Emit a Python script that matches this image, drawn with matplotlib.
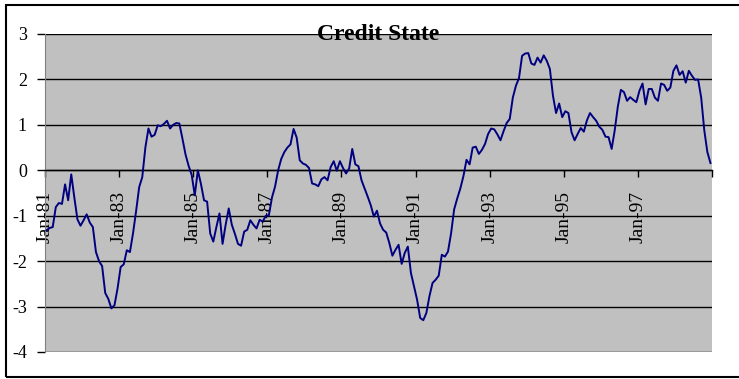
import numpy as np
import matplotlib
matplotlib.use("Agg")
from matplotlib import pyplot as plt
from matplotlib.patches import Rectangle

# monthly credit state, Jan-81 .. Dec-98 (one row per year)
credit_state = [
    -1.32, -1.27, -1.25, -0.81, -0.72, -0.74, -0.31, -0.66, -0.09, -0.60, -1.08, -1.22,  # 81
    -1.10, -0.97, -1.15, -1.25, -1.80, -2.00, -2.11, -2.70, -2.83, -3.04, -2.97, -2.60,  # 82
    -2.13, -2.07, -1.76, -1.80, -1.39, -0.90, -0.37, -0.15, 0.50, 0.92, 0.74, 0.78,      # 83
    0.99, 0.97, 1.02, 1.09, 0.92, 1.00, 1.04, 1.03, 0.70, 0.35, 0.10, -0.10,             # 84
    -0.55, 0.00, -0.30, -0.66, -0.69, -1.39, -1.57, -1.25, -0.95, -1.62, -1.20, -0.84,   # 85
    -1.20, -1.40, -1.62, -1.66, -1.35, -1.31, -1.10, -1.20, -1.28, -1.09, -1.13, -1.00,  # 86
    -0.99, -0.60, -0.36, 0.00, 0.25, 0.40, 0.50, 0.57, 0.91, 0.72, 0.22, 0.15,           # 87
    0.12, 0.05, -0.29, -0.31, -0.35, -0.20, -0.15, -0.22, 0.07, 0.20, -0.01, 0.20,       # 88
    0.05, -0.07, 0.04, 0.47, 0.13, 0.09, -0.22, -0.40, -0.58, -0.77, -1.02, -0.89,       # 89
    -1.17, -1.31, -1.37, -1.60, -1.88, -1.75, -1.64, -2.06, -1.82, -1.68, -2.26, -2.55,  # 90
    -2.85, -3.25, -3.30, -3.14, -2.77, -2.48, -2.41, -2.32, -1.86, -1.90, -1.79, -1.39,  # 91
    -0.86, -0.62, -0.40, -0.13, 0.23, 0.13, 0.50, 0.52, 0.36, 0.45, 0.58, 0.80,          # 92
    0.92, 0.90, 0.79, 0.66, 0.86, 1.04, 1.13, 1.60, 1.86, 2.03, 2.52, 2.57,              # 93
    2.58, 2.35, 2.32, 2.48, 2.37, 2.53, 2.41, 2.23, 1.64, 1.26, 1.47, 1.17,              # 94
    1.30, 1.26, 0.84, 0.66, 0.80, 0.93, 0.85, 1.10, 1.26, 1.17, 1.09, 0.96,              # 95
    0.89, 0.74, 0.73, 0.47, 0.88, 1.40, 1.77, 1.72, 1.53, 1.61, 1.55, 1.50,              # 96
    1.75, 1.91, 1.45, 1.79, 1.79, 1.60, 1.53, 1.91, 1.88, 1.75, 1.82, 2.19,              # 97
    2.31, 2.10, 2.18, 1.93, 2.19, 2.08, 1.99, 2.00, 1.60, 0.88, 0.40, 0.16,              # 98
]
tick_labels = ["Jan-81", "Jan-83", "Jan-85", "Jan-87", "Jan-89",
               "Jan-91", "Jan-93", "Jan-95", "Jan-97", ""]
y_ticks = [-4, -3, -2, -1, 0, 1, 2, 3]


def data_plot():
    plt.rcParams['font.family'] = ['Liberation Serif', 'DejaVu Serif']

    fig = plt.figure(figsize=(7.39, 3.79), dpi=100)
    ax = fig.add_axes([45 / 739, 1 - 352 / 379, 667 / 739, 318 / 379])
    ax.set_facecolor('#C0C0C0')

    # axis crosses at zero (set first, it resets the ticks)
    ax.spines['bottom'].set_position(('data', 0))
    ax.spines['bottom'].set_linewidth(1)
    ax.spines['left'].set_color('#808080')
    ax.spines['top'].set_visible(False)
    ax.spines['right'].set_visible(False)

    x = np.arange(len(credit_state))
    ax.plot(x, credit_state, color='#000080', linewidth=1.4, zorder=3)

    # category axis: ticks sit between months, every two years
    ax.set_xlim(-0.5, len(credit_state) - 0.5)
    ax.set_xticks(np.arange(0, len(credit_state) + 1, 24) - 0.5)
    ax.set_xticklabels(tick_labels, rotation=90, fontsize=14)
    ax.tick_params(axis='x', direction='out', length=5, width=1, pad=10, colors='black')

    ax.set_ylim(-4, 3)
    ax.set_yticks(y_ticks)
    ax.set_yticklabels([str(v) for v in y_ticks], fontsize=13)
    ax.tick_params(axis='y', direction='out', length=6, width=1, pad=7)
    ax.yaxis.grid(True, color='black', linewidth=1)
    ax.set_axisbelow(True)

    ax.set_title("Credit State", fontsize=17, fontweight='bold', y=0.955, zorder=5)

    # chart frame
    fig.patches.append(Rectangle((6 / 739, 2 / 379), 1.2, 372 / 379, transform=fig.transFigure,
                                 fill=False, edgecolor='black', linewidth=1.5))

    plt.savefig('out.png', dpi=100)
    plt.close()


if __name__ == "__main__":
    data_plot()
